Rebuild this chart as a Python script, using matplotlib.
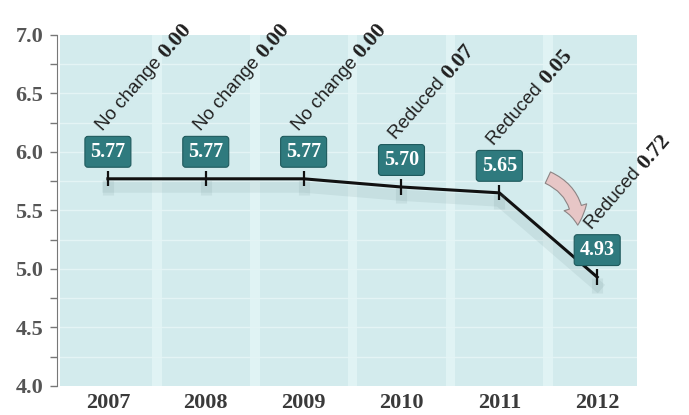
import matplotlib.pyplot as plt
import matplotlib.patheffects as pe
from matplotlib.patches import FancyArrowPatch
from matplotlib.transforms import offset_copy
import numpy as np

# chart data
years = ['2007', '2008', '2009', '2010', '2011', '2012']
rates = [5.77, 5.77, 5.77, 5.70, 5.65, 4.93]
change_words = ['No change', 'No change', 'No change', 'Reduced', 'Reduced', 'Reduced']
change_vals = ['0.00', '0.00', '0.00', '0.07', '0.05', '0.72']
y_ticks = [4.0, 4.5, 5.0, 5.5, 6.0, 6.5, 7.0]

bg = '#d3ebed'
band = '#e0f3f4'
teal = '#2f7a7e'
tick_col = '#3a3a3a'

plt.rcParams['font.family'] = 'Liberation Serif'

fig = plt.figure(figsize=(6.89, 4.15), dpi=100)
ax = fig.add_axes([0.087, 0.07, 0.838, 0.846])
x = np.arange(len(years))

# spines first (set_position resets the ticks)
for s in ['top', 'right', 'bottom']:
    ax.spines[s].set_visible(False)
ax.spines['left'].set_color('#777777')
ax.spines['left'].set_position(('outward', 2))

ax.set_xlim(-0.49, 5.41)
ax.set_ylim(4.0, 7.0)
ax.set_facecolor(bg)

# lighter vertical bands between the years and faint horizontal lines
for xb in x[:-1] + 0.5:
    ax.axvspan(xb - 0.05, xb + 0.05, color=band, lw=0, zorder=0)
for yg in np.arange(4.25, 7.0, 0.25):
    ax.axhline(yg, color='#e4f4f5', lw=1, zorder=0.5)

# the line with a soft shadow
ax.plot(x, rates, color='#111111', lw=2.2, marker='|', markersize=11,
        markeredgewidth=1.6, zorder=3,
        path_effects=[pe.SimpleLineShadow(offset=(0, -6), shadow_color='#6a8a8c',
                                          alpha=0.12, linewidth=8),
                      pe.Normal()])

# value boxes
for xi, r in zip(x, rates):
    ax.annotate(f'{r:.2f}', xy=(xi, r), xytext=(0, 27), textcoords='offset pixels',
                ha='center', va='center', color='white', fontsize=14.5,
                family='Liberation Serif', fontweight='bold', zorder=5,
                bbox=dict(boxstyle='round,pad=0.27,rounding_size=0.15',
                          fc=teal, ec='#1f5a5d', lw=0.8))

# rotated change notes, sans word + bold serif number
ang = 49
ca, sa = np.cos(np.radians(ang)), np.sin(np.radians(ang))
fig.canvas.draw()
renderer = fig.canvas.get_renderer()
for xi, r, w, v in zip(x, rates, change_words, change_vals):
    base = offset_copy(ax.transData, fig=fig, x=-5, y=47, units='dots')
    ax.text(xi, r, w + ' ', transform=base, rotation=ang, rotation_mode='anchor',
            ha='left', va='baseline', fontsize=13.5, family='Liberation Sans',
            color='#222222', zorder=4)
    tmp = ax.text(0, 0, w + ' ', fontsize=13.5, family='Liberation Sans')
    wpx = tmp.get_window_extent(renderer).width
    tmp.remove()
    tr2 = offset_copy(ax.transData, fig=fig, x=-5 + wpx * ca, y=47 + wpx * sa, units='dots')
    ax.text(xi, r, v, transform=tr2, rotation=ang, rotation_mode='anchor',
            ha='left', va='baseline', fontsize=16, family='Liberation Serif',
            fontweight='bold', color='#222222', zorder=4)

# curved pink arrow into the big drop
arr = FancyArrowPatch((4.47, 5.79), (4.80, 5.35), connectionstyle='arc3,rad=-0.35',
                      arrowstyle='simple,head_width=17,head_length=13,tail_width=9',
                      fc='#e7c6c6', ec='#8c8484', lw=0.8, zorder=4)
ax.add_patch(arr)

# axes styling
ax.set_xticks(x)
ax.set_xticklabels(years)
ax.set_yticks(y_ticks)
ax.set_yticklabels([f'{t:.1f}' for t in y_ticks])
ax.set_yticks(np.arange(4.25, 7.0, 0.5), minor=True)
ax.tick_params(axis='x', length=0, pad=5)
ax.tick_params(axis='y', which='both', length=5, color='#777777', width=1, pad=5)
for lab in ax.get_xticklabels():
    lab.set_fontfamily('Liberation Serif')
    lab.set_fontweight('bold')
    lab.set_fontsize(16)
    lab.set_color(tick_col)
for lab in ax.get_yticklabels():
    lab.set_fontfamily('Liberation Serif')
    lab.set_fontweight('bold')
    lab.set_fontsize(16)
    lab.set_color('#555555')

fig.savefig('out.png', dpi=100)
